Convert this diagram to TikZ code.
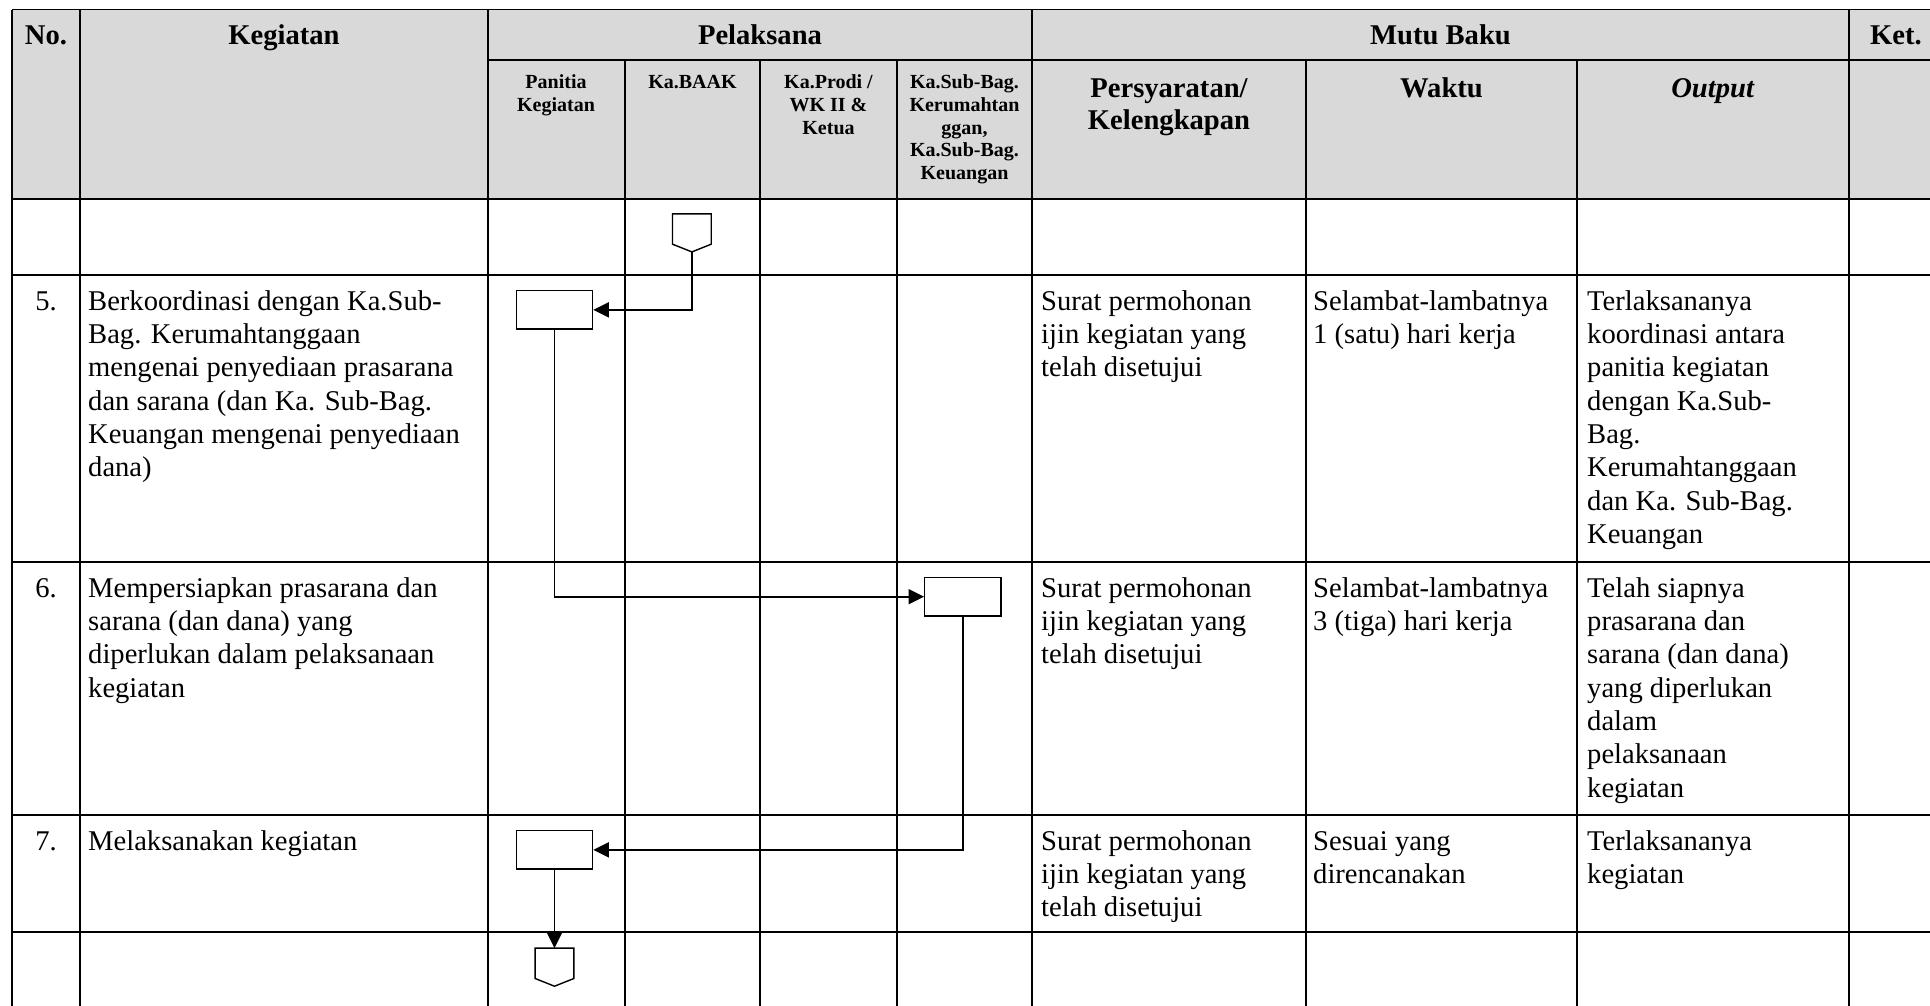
\documentclass[tikz,border=0pt]{standalone}
\usepackage{fontspec}
\setmainfont{Liberation Serif}
\usetikzlibrary{arrows.meta,calc}
\definecolor{hdr}{HTML}{D9D9D9}
\newcommand\bodyfs{\fontsize{28.6}{33.3}\selectfont}
\newcommand\hdrfs{\fontsize{28.6}{32.6}\selectfont\bfseries}
\newcommand\subfs{\fontsize{20}{22.8}\selectfont\bfseries}
\begin{document}
\begin{tikzpicture}[x=1pt,y=-1pt,
  rule/.style={line width=1.9pt},
  thinrule/.style={line width=1.2pt},
  thickrule/.style={line width=2.5pt},
  hc/.style={font=\hdrfs, anchor=base, inner sep=0pt},
  hm/.style={font=\hdrfs, align=center, anchor=north, inner sep=0pt},
  subhd/.style={font=\subfs, align=center, anchor=north, inner sep=0pt},
  body/.style={font=\bodyfs, align=left, anchor=north west, inner sep=0pt},
  num/.style={font=\bodyfs, anchor=base, inner sep=0pt},
  procbox/.style={draw, line width=1.4pt, fill=white, minimum width=76.4pt, minimum height=38.3pt, inner sep=0pt},
  hexnode/.style={minimum width=38.3pt, minimum height=37.7pt, inner sep=0pt},
  shapeline/.style={draw, line width=1.4pt, fill=white, line join=miter},
  arr/.style={line width=1.8pt, -{Triangle[length=15.5pt,width=15pt]}}
]
\useasboundingbox (0,0) rectangle (1930,1005);
\fill[white] (0,0) rectangle (1930,1005);
% header shading
\fill[hdr] (12,9.5) rectangle (1948,199);
% horizontal rules
\draw[thinrule] (12,9.5) -- (1948,9.5);
\draw[rule] (487.7,59.7) -- (1948,59.7);
\draw[thickrule] (12,199) -- (1948,199);
\foreach \y in {275,562,815,931.7} \draw[rule] (12,\y) -- (1948,\y);
% vertical rules
\foreach \x in {12,80,487.7,1032,1849} \draw[rule] (\x,9.5) -- (\x,1012);
\foreach \x in {625,760,897,1306,1577} \draw[rule] (\x,59.7) -- (\x,1012);

% header row 1
\node[hc] (hNo) at (46,44.3) {No.};
\node[hc] (hKeg) at (284,44.3) {Kegiatan};
\node[hc] (hPel) at (760,44.3) {Pelaksana};
\node[hc] (hMutu) at (1440.5,44.3) {Mutu Baku};
\node[hc] (hKet) at (1896,44.3) {Ket.};
% header row 2
\node[subhd] (hPan) at (556,72.3) {\strut Panitia\\Kegiatan};
\node[subhd] (hBaak) at (692.5,72.3) {\strut Ka.BAAK};
\node[subhd] (hProdi) at (828.5,72.3) {\strut Ka.Prodi /\\WK II \&\\Ketua};
\node[subhd] (hSub) at (964.5,72.3) {\strut Ka.Sub-Bag.\\Kerumahtan\\ggan,\\Ka.Sub-Bag.\\Keuangan};
\node[hm] (hPers) at (1169,74.2) {\strut Persyaratan/\\Kelengkapan};
\node[hm] (hWak) at (1441.5,74.2) {\strut Waktu};
\node[hm] (hOut) at (1713,74.2) {\strut\textit{Output}};

% row 5
\node[num] (n5) at (46,310) {5.};
\node[body] (k5) at (88,286.7) {\strut Berkoordinasi dengan Ka.Sub-\\Bag. Kerumahtanggaan\\mengenai penyediaan prasarana\\dan sarana (dan Ka. Sub-Bag.\\Keuangan mengenai penyediaan\\dana)};
\node[body] (p5) at (1041,286.7) {\strut Surat permohonan\\ijin kegiatan yang\\telah disetujui};
\node[body] (w5) at (1313,286.7) {\strut Selambat-lambatnya\\1 (satu) hari kerja};
\node[body] (o5) at (1587,286.7) {\strut Terlaksananya\\koordinasi antara\\panitia kegiatan\\dengan Ka.Sub-\\Bag.\\Kerumahtanggaan\\dan Ka. Sub-Bag.\\Keuangan};

% row 6
\node[num] (n6) at (46,597) {6.};
\node[body] (k6) at (88,573.7) {\strut Mempersiapkan prasarana dan\\sarana (dan dana) yang\\diperlukan dalam pelaksanaan\\kegiatan};
\node[body] (p6) at (1041,573.7) {\strut Surat permohonan\\ijin kegiatan yang\\telah disetujui};
\node[body] (w6) at (1313,573.7) {\strut Selambat-lambatnya\\3 (tiga) hari kerja};
\node[body] (o6) at (1587,573.7) {\strut Telah siapnya\\prasarana dan\\sarana (dan dana)\\yang diperlukan\\dalam\\pelaksanaan\\kegiatan};

% row 7
\node[num] (n7) at (46,850) {7.};
\node[body] (k7) at (88,826.7) {\strut Melaksanakan kegiatan};
\node[body] (p7) at (1041,826.7) {\strut Surat permohonan\\ijin kegiatan yang\\telah disetujui};
\node[body] (w7) at (1313,826.7) {\strut Sesuai yang\\direncanakan};
\node[body] (o7) at (1587,826.7) {\strut Terlaksananya\\kegiatan};

% flow shapes
\node[hexnode] (h1) at (691.85,232.85) {};
\node[procbox] (b1) at (554.5,309.85) {};
\node[procbox] (b2) at (962.9,596.7) {};
\node[procbox] (b3) at (554.5,849.85) {};
\node[hexnode] (h2) at (554.5,967.15) {};
\draw[shapeline] (h1.north west) -- (h1.north east) -- ($(h1.south east)+(0,-7.7)$) -- (h1.south) -- ($(h1.south west)+(0,-7.7)$) -- cycle;
\draw[shapeline] (h2.north west) -- (h2.north east) -- ($(h2.south east)+(0,-7.7)$) -- (h2.south) -- ($(h2.south west)+(0,-7.7)$) -- cycle;

% connectors
\draw[arr] (h1.south) |- (b1.east);
\draw[arr] (b1.south) |- (b2.west);
\draw[arr] (b2.south) |- (b3.east);
\draw[arr] (b3.south) -- (h2.north);
\end{tikzpicture}
\end{document}
